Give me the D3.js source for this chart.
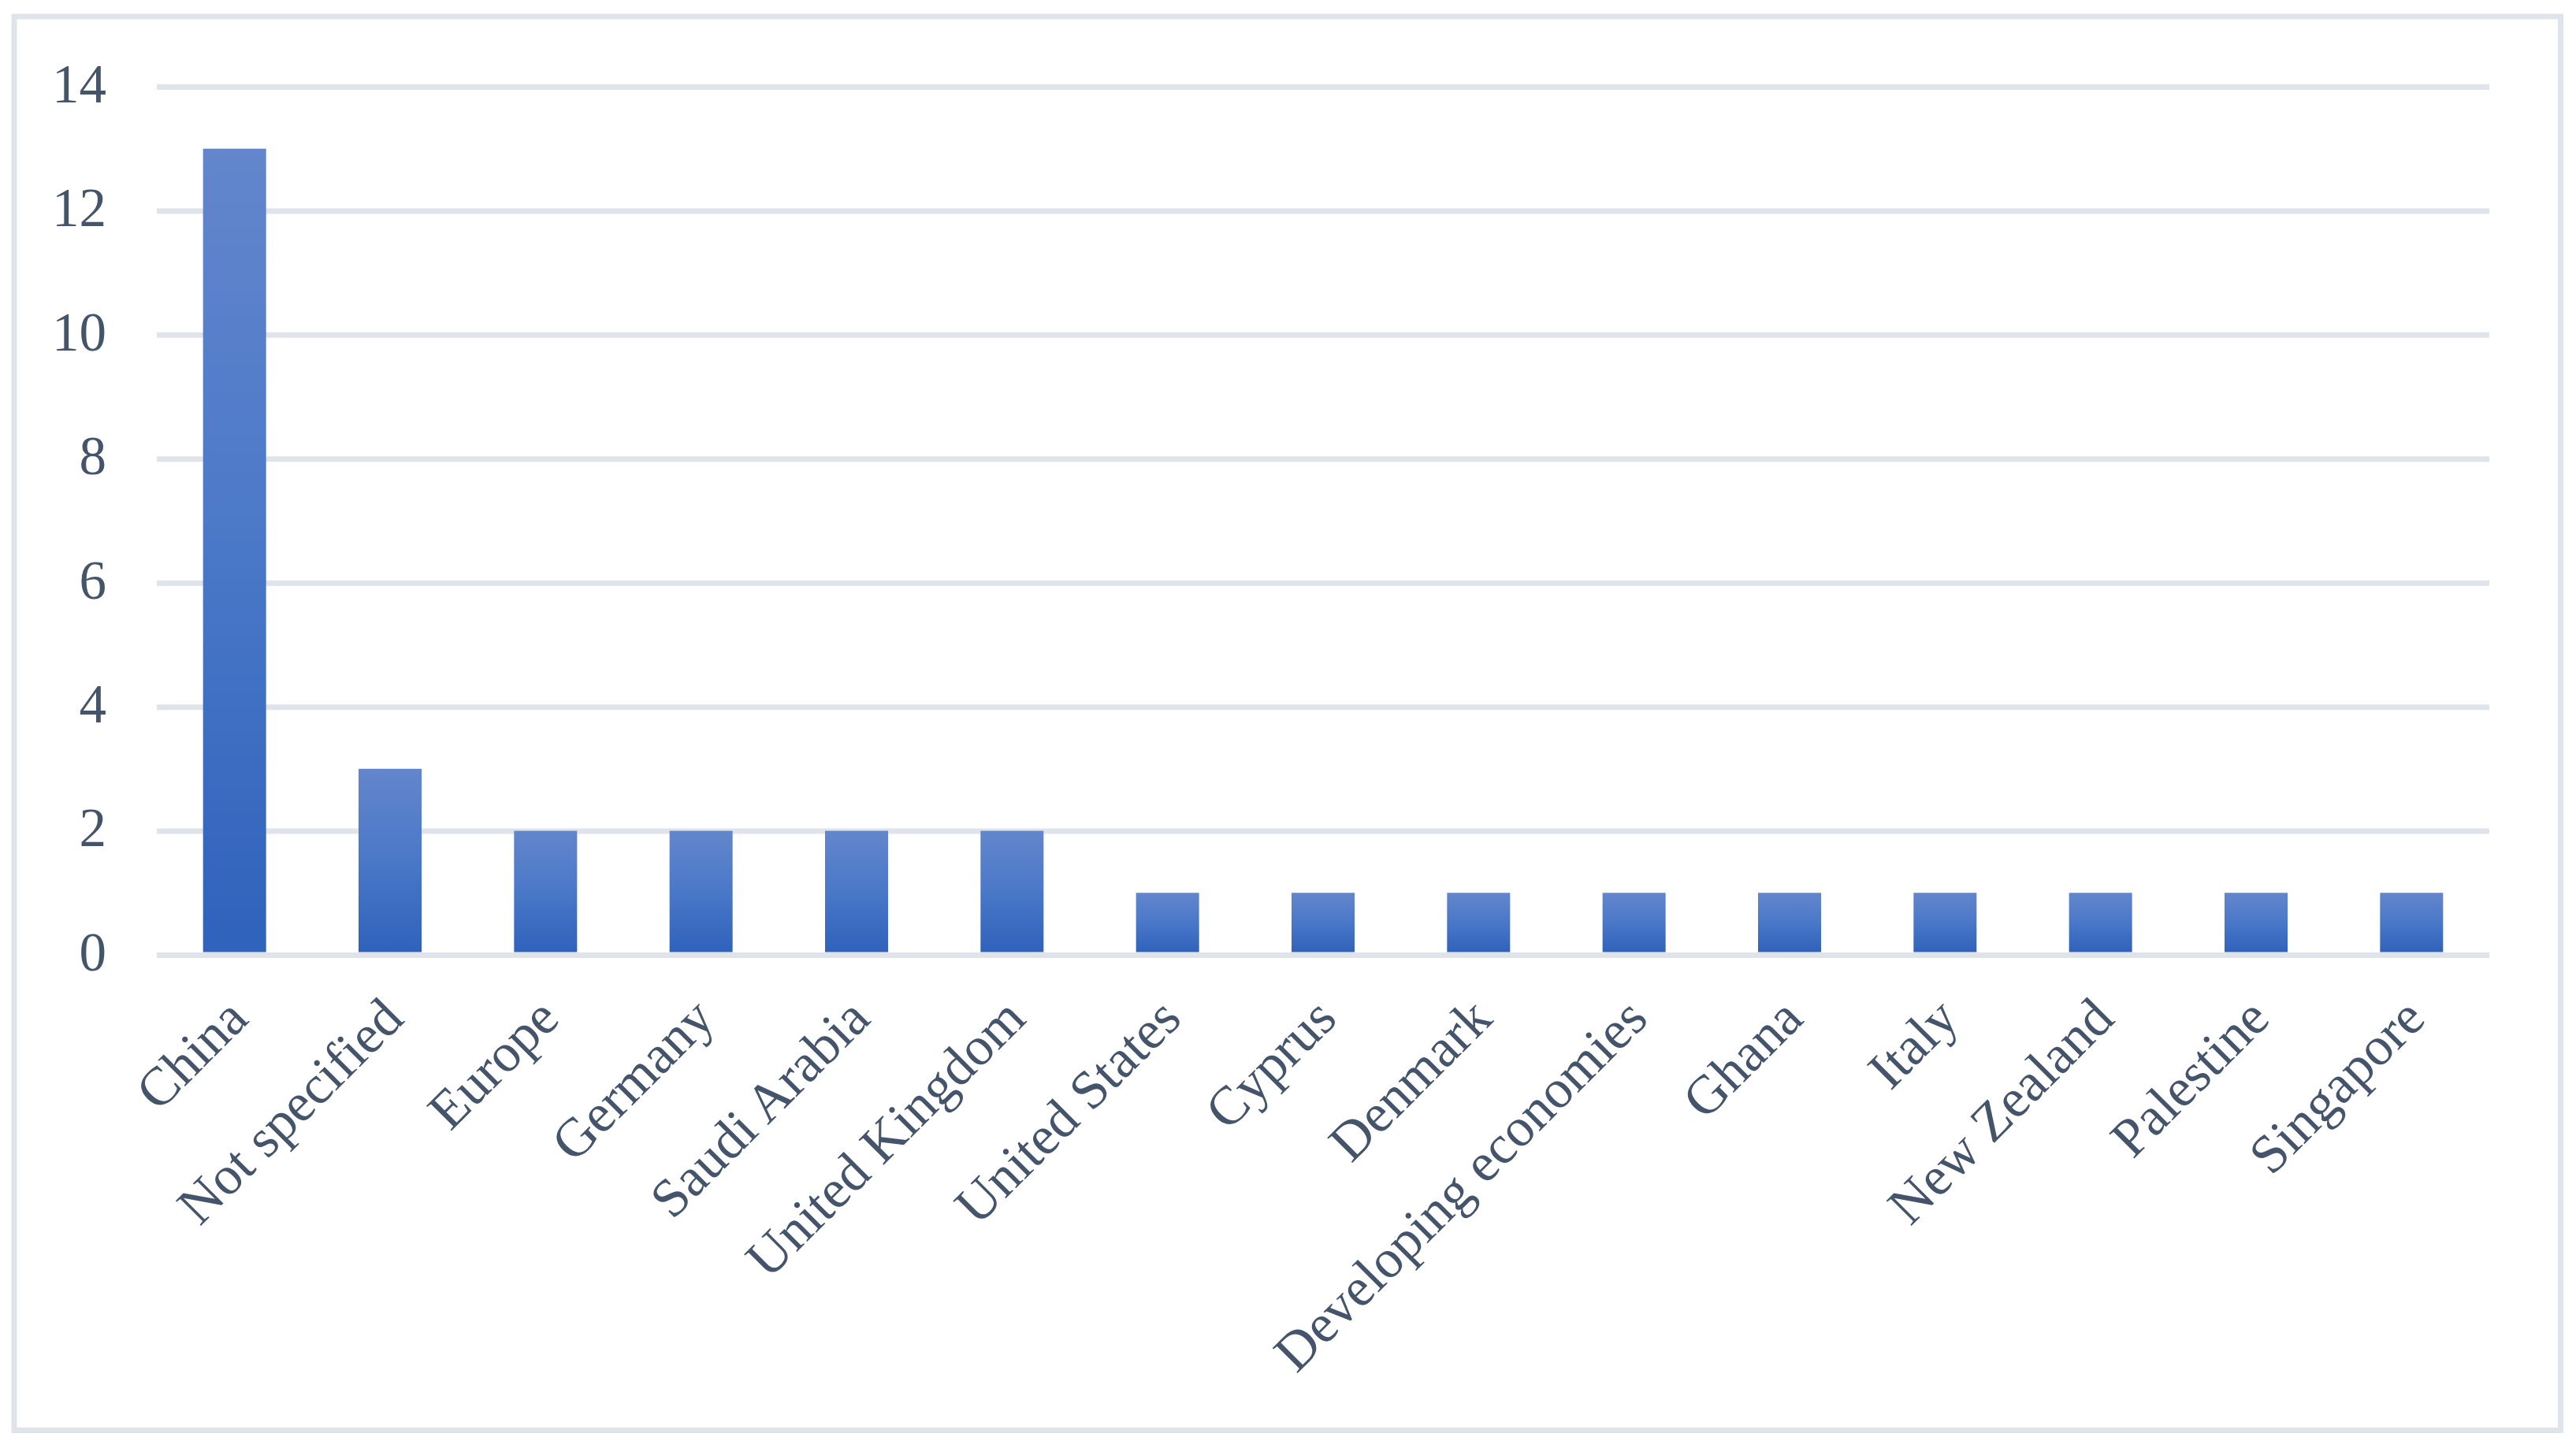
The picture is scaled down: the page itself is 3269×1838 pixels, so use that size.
<!DOCTYPE html>
<html>
<head>
<meta charset="utf-8">
<script src="https://cdn.jsdelivr.net/npm/d3@7"></script>
<style>
  html, body { margin: 0; padding: 0; background: #ffffff; }
  svg { display: block; }
</style>
</head>
<body>
<div id="chart"></div>
<script>
const categories = ["China", "Not specified", "Europe", "Germany", "Saudi Arabia", "United Kingdom",
  "United States", "Cyprus", "Denmark", "Developing economies", "Ghana", "Italy",
  "New Zealand", "Palestine", "Singapore"];
const values = [13, 3, 2, 2, 2, 2, 1, 1, 1, 1, 1, 1, 1, 1, 1];
const yTicks = [0, 2, 4, 6, 8, 10, 12, 14];

const W = 3269, H = 1838;
const plot = { left: 199, right: 3159, top: 110, bottom: 1212 };
const textColor = "#44546a";
const gridColor = "#dfe3ea";
const fontFamily = "'Liberation Serif', 'Times New Roman', serif";
const fontSize = 69;

const svg = d3.select("#chart").append("svg")
  .attr("width", W).attr("height", H);

svg.append("rect").attr("width", W).attr("height", H).attr("fill", "#ffffff");

// outer border
svg.append("rect")
  .attr("x", 18).attr("y", 21)
  .attr("width", 3249.5 - 18).attr("height", 1815.5 - 21)
  .attr("fill", "none").attr("stroke", gridColor).attr("stroke-width", 7);

const defs = svg.append("defs");
const grad = defs.append("linearGradient").attr("id", "barGrad")
  .attr("x1", 0).attr("y1", 0).attr("x2", 0).attr("y2", 1);
grad.append("stop").attr("offset", "0%").attr("stop-color", "#6386cc");
grad.append("stop").attr("offset", "50%").attr("stop-color", "#4a78c8");
grad.append("stop").attr("offset", "100%").attr("stop-color", "#2f62bb");

const x = d3.scaleBand()
  .domain(categories)
  .range([plot.left, plot.right])
  .paddingInner(0.5946)
  .paddingOuter(0.5946 / 2);

const y = d3.scaleLinear()
  .domain([0, 14])
  .range([plot.bottom, plot.top]);

// y axis with gridlines
const yAxis = svg.append("g")
  .attr("transform", `translate(${plot.left},0)`)
  .call(d3.axisLeft(y).tickValues(yTicks)
    .tickSize(-(plot.right - plot.left))
    .tickPadding(64)
    .tickFormat(d3.format("d")));
yAxis.select(".domain").remove();
yAxis.selectAll(".tick line")
  .attr("stroke", gridColor).attr("stroke-width", 7);
yAxis.selectAll(".tick text")
  .attr("fill", textColor)
  .attr("font-family", fontFamily)
  .attr("font-size", fontSize)
  .attr("dy", "0.28em");

// bars
svg.append("g").selectAll("rect")
  .data(categories)
  .join("rect")
  .attr("x", d => x(d))
  .attr("width", x.bandwidth())
  .attr("y", (d, i) => y(values[i]))
  .attr("height", (d, i) => y(0) - y(values[i]) - 3.5)
  .attr("fill", "url(#barGrad)");

// x axis labels
const xAxis = svg.append("g")
  .attr("transform", `translate(0,${plot.bottom})`)
  .call(d3.axisBottom(x).tickSize(0).tickPadding(0));
xAxis.select(".domain").remove();
xAxis.selectAll(".tick text")
  .attr("fill", textColor)
  .attr("font-family", fontFamily)
  .attr("font-size", fontSize)
  .attr("text-anchor", "end")
  .attr("dy", 0)
  .attr("y", 0)
  .attr("transform", "translate(20,84) rotate(-45)");
</script>
</body>
</html>
